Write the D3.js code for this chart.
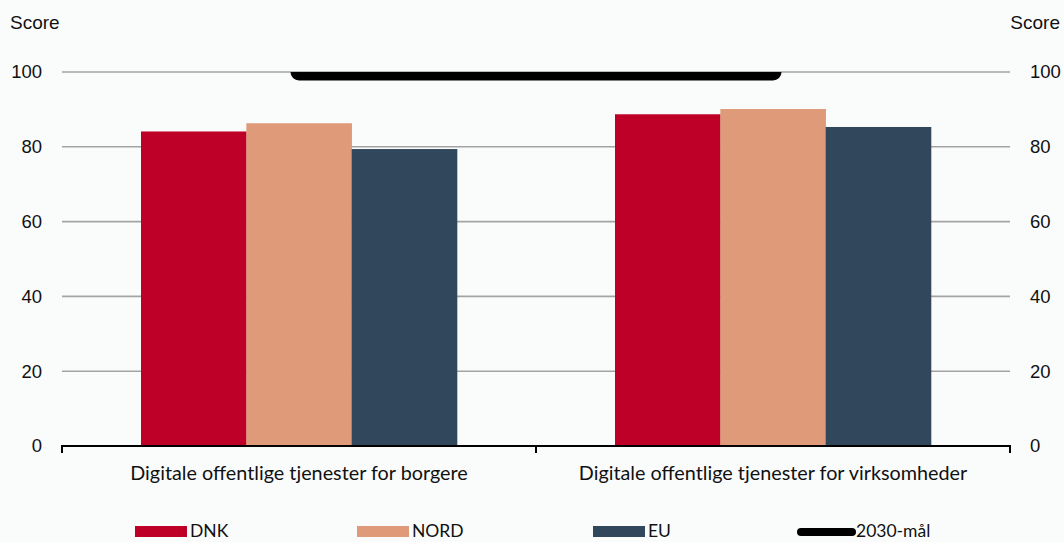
<!DOCTYPE html>
<html>
<head>
<meta charset="utf-8">
<script src="https://cdn.jsdelivr.net/npm/d3@7"></script>
<style>
  html, body { margin: 0; padding: 0; background: #fafcfc; }
  svg { display: block; }
</style>
</head>
<body>
<svg id="chart" width="1064" height="542"></svg>
<script>
// Categories, series and values
const categories = ["Digitale offentlige tjenester for borgere", "Digitale offentlige tjenester for virksomheder"];
const seriesNames = ["DNK", "NORD", "EU"];
const dnkValues  = [84.1, 88.7];
const nordValues = [86.3, 90.1];
const euValues   = [79.4, 85.3];
const targetValues = [100, 100];
const targetName = "2030-mål";
const yTicks = [0, 20, 40, 60, 80, 100];
const axisTitle = "Score";

const seriesValues = [dnkValues, nordValues, euValues];
const colors = { DNK: "#be0028", NORD: "#df9b79", EU: "#31485c" };

const W = 1064, H = 542;
const plot = { left: 62, right: 1010, top: 72, bottom: 446 };
const tickFont = "'Liberation Sans', Arial, sans-serif";
const labelFont = "Lato, 'Open Sans', sans-serif";

const svg = d3.select("#chart");

const x0 = d3.scaleBand().domain(categories).range([plot.left, plot.right]).padding(0);
const x1 = d3.scaleBand().domain(seriesNames).range([0, x0.bandwidth()])
  .paddingInner(0).paddingOuter(0.75);
const y = d3.scaleLinear().domain([0, 100]).range([plot.bottom, plot.top]);

// Gridlines
svg.append("g")
  .selectAll("line")
  .data(yTicks.filter(d => d > 0))
  .join("line")
  .attr("x1", plot.left).attr("x2", plot.right)
  .attr("y1", d => y(d)).attr("y2", d => y(d))
  .attr("stroke", "#a3a3a3").attr("stroke-width", 1.6);

// Bars
const rows = categories.map((c, i) => ({
  category: c,
  values: seriesNames.map((s, j) => ({ series: s, value: seriesValues[j][i] }))
}));

svg.append("g")
  .selectAll("g")
  .data(rows)
  .join("g")
  .attr("transform", d => `translate(${x0(d.category)},0)`)
  .selectAll("rect")
  .data(d => d.values)
  .join("rect")
  .attr("x", d => x1(d.series))
  .attr("width", x1.bandwidth() + 0.3)
  .attr("y", d => y(d.value))
  .attr("height", d => y(0) - y(d.value))
  .attr("fill", d => colors[d.series]);

// Target line, clipped to the plot area
svg.append("clipPath").attr("id", "plotClip")
  .append("rect")
  .attr("x", plot.left).attr("y", plot.top)
  .attr("width", plot.right - plot.left).attr("height", plot.bottom - plot.top);

const targetLine = d3.line()
  .x((d, i) => x0(categories[i]) + x0.bandwidth() / 2)
  .y(d => y(d));

svg.append("path")
  .datum(targetValues)
  .attr("clip-path", "url(#plotClip)")
  .attr("d", targetLine)
  .attr("fill", "none")
  .attr("stroke", "#000")
  .attr("stroke-width", 17)
  .attr("stroke-linecap", "round");

// Bottom axis
const xAxis = svg.append("g").attr("transform", `translate(0,${plot.bottom})`);
xAxis.append("line")
  .attr("x1", plot.left).attr("x2", plot.right)
  .attr("stroke", "#000").attr("stroke-width", 2);
const tickXs = [plot.left, ...categories.map(c => x0(c) + x0.bandwidth())];
xAxis.selectAll("line.tick")
  .data(tickXs)
  .join("line")
  .attr("class", "tick")
  .attr("x1", d => d).attr("x2", d => d)
  .attr("y1", -1).attr("y2", 7)
  .attr("stroke", "#000").attr("stroke-width", 2);
xAxis.selectAll("text")
  .data(categories)
  .join("text")
  .attr("x", d => x0(d) + x0.bandwidth() / 2)
  .attr("y", 34)
  .attr("text-anchor", "middle")
  .attr("font-family", labelFont)
  .attr("font-size", 19.8)
  .attr("fill", "#111")
  .text(d => d);

// Left and right value axes
const leftAxis = d3.axisLeft(y).tickValues(yTicks).tickSize(0).tickPadding(0);
const rightAxis = d3.axisRight(y).tickValues(yTicks).tickSize(0).tickPadding(0);

function styleAxis(g) {
  g.select(".domain").remove();
  g.selectAll("text")
    .attr("font-family", tickFont)
    .attr("font-size", 18.5)
    .attr("fill", "#111");
}
svg.append("g").attr("transform", "translate(42,0)").call(leftAxis).call(styleAxis);
svg.append("g").attr("transform", "translate(1030,0)").call(rightAxis).call(styleAxis);

// Axis titles
svg.append("text")
  .attr("x", 10).attr("y", 29)
  .attr("font-family", tickFont).attr("font-size", 19).attr("fill", "#111")
  .text(axisTitle);
svg.append("text")
  .attr("x", 1060).attr("y", 29).attr("text-anchor", "end")
  .attr("font-family", tickFont).attr("font-size", 19).attr("fill", "#111")
  .text(axisTitle);

// Legend
const legendX = [135, 357, 593];
const legendBase = 537;
const legend = svg.append("g");
seriesNames.forEach((s, i) => {
  const g = legend.append("g").attr("transform", `translate(${legendX[i]},0)`);
  g.append("rect").attr("x", 0).attr("y", legendBase - 11).attr("width", 52).attr("height", 11)
    .attr("fill", colors[s]);
  g.append("text").attr("x", 55).attr("y", legendBase)
    .attr("font-family", labelFont).attr("font-size", 17.5).attr("fill", "#111")
    .text(s);
});
const lg = legend.append("g").attr("transform", "translate(801,0)");
lg.append("line").attr("x1", 0).attr("x2", 51).attr("y1", legendBase - 5).attr("y2", legendBase - 5)
  .attr("stroke", "#000").attr("stroke-width", 8).attr("stroke-linecap", "round");
lg.append("text").attr("x", 55).attr("y", legendBase)
  .attr("font-family", labelFont).attr("font-size", 17.5).attr("fill", "#111")
  .text(targetName);
</script>
</body>
</html>
